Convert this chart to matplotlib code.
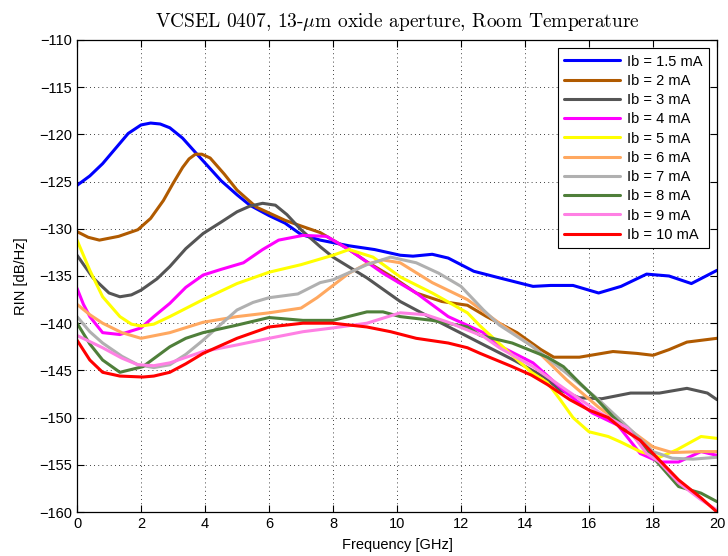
import matplotlib
matplotlib.use('Agg')
import matplotlib.pyplot as plt

# RIN spectra, one curve per bias current (x in GHz, y in dB/Hz)
x_15 = [0, 0.4, 0.8, 1.2, 1.6, 2.0, 2.3, 2.6, 2.9, 3.3, 3.75, 4.1, 4.5, 5.0, 5.4, 6.0, 6.5, 7.0, 7.6, 8.5, 9.3, 10.1, 10.5, 11.1, 11.6, 12.0, 12.4, 13.2, 14.25, 14.8, 15.5, 16.3, 17.0, 17.8, 18.5, 19.2, 20]
y_15 = [-125.4, -124.4, -123.1, -121.5, -119.9, -119.0, -118.8, -118.9, -119.3, -120.4, -122.1, -123.4, -124.9, -126.4, -127.5, -128.6, -129.4, -130.6, -131.2, -131.8, -132.2, -132.8, -132.9, -132.7, -133.1, -133.8, -134.5, -135.2, -136.1, -136.0, -136.0, -136.8, -136.1, -134.8, -135.0, -135.8, -134.4]

x_2 = [0, 0.35, 0.7, 1.3, 1.9, 2.3, 2.7, 3.0, 3.3, 3.5, 3.7, 3.9, 4.16, 4.6, 5.0, 5.6, 6.5, 7.0, 7.6, 8.0, 8.5, 9.06, 9.9, 10.6, 11.4, 12.2, 12.8, 13.75, 14.5, 14.9, 15.7, 16.75, 17.5, 18.0, 18.5, 19.06, 20]
y_2 = [-130.3, -130.9, -131.2, -130.8, -130.1, -128.9, -127.0, -125.2, -123.5, -122.6, -122.1, -122.1, -122.5, -124.2, -125.9, -127.7, -129.1, -129.7, -130.4, -131.2, -132.2, -133.5, -135.2, -136.8, -137.7, -138.1, -139.3, -141.0, -142.8, -143.6, -143.6, -143.0, -143.2, -143.4, -142.8, -142.0, -141.6]

x_3 = [0, 0.5, 1.0, 1.34, 1.7, 2.0, 2.5, 2.9, 3.4, 3.94, 4.5, 5.0, 5.4, 5.8, 6.2, 6.56, 7.0, 7.6, 8.0, 9.06, 10.1, 11.1, 12.2, 12.6, 13.7, 14.6, 15.1, 15.7, 16.4, 17.3, 18.2, 19.06, 19.7, 20]
y_3 = [-132.8, -135.2, -136.8, -137.2, -137.0, -136.5, -135.3, -134.0, -132.1, -130.5, -129.3, -128.2, -127.6, -127.3, -127.5, -128.5, -130.1, -131.9, -133.0, -135.2, -137.7, -139.5, -141.4, -142.1, -144.0, -145.7, -147.1, -147.9, -148.0, -147.4, -147.4, -146.9, -147.4, -148.1]

x_4 = [0, 0.2, 0.4, 0.8, 1.34, 2.0, 2.4, 2.9, 3.4, 3.94, 4.5, 5.2, 5.8, 6.3, 7.06, 7.8, 8.5, 9.56, 10.6, 11.6, 12.7, 13.2, 14.25, 15.3, 16.1, 16.9, 17.6, 18.2, 18.8, 19.5, 20]
y_4 = [-136.3, -138.0, -139.3, -141.0, -141.2, -140.5, -139.3, -137.9, -136.2, -134.9, -134.3, -133.6, -132.2, -131.2, -130.7, -130.8, -132.2, -134.7, -136.8, -139.3, -141.0, -142.4, -144.2, -147.4, -149.5, -150.8, -153.8, -154.7, -154.7, -153.6, -154.0]

x_5 = [0, 0.4, 0.8, 1.34, 1.7, 2.0, 2.4, 2.9, 3.94, 5.0, 6.0, 7.0, 8.0, 8.5, 9.25, 10.1, 11.1, 12.2, 12.6, 13.6, 14.2, 14.7, 15.1, 15.5, 16.0, 16.6, 17.0, 17.6, 18.2, 18.75, 19.5, 20]
y_5 = [-131.2, -134.4, -137.2, -139.3, -140.1, -140.3, -140.1, -139.3, -137.5, -135.8, -134.6, -133.8, -132.8, -132.2, -133.0, -135.1, -136.8, -138.9, -140.3, -143.4, -145.2, -146.3, -148.1, -150.0, -151.5, -152.0, -152.6, -153.6, -154.2, -153.4, -152.0, -152.2]

x_6 = [0, 0.4, 0.8, 1.4, 2.0, 2.9, 3.94, 5.0, 6.0, 7.0, 7.5, 8.0, 8.5, 9.0, 9.56, 10.1, 11.1, 12.2, 13.2, 14.25, 15.3, 16.3, 17.2, 18.0, 18.6, 19.5, 20]
y_6 = [-138.0, -139.1, -140.0, -141.0, -141.6, -141.0, -139.9, -139.3, -138.9, -138.4, -137.3, -136.0, -134.7, -133.8, -133.3, -133.6, -135.7, -137.5, -140.0, -142.5, -146.0, -148.9, -151.1, -153.1, -153.7, -153.6, -153.6]

x_7 = [0, 0.4, 0.8, 1.4, 1.9, 2.4, 2.9, 3.4, 3.94, 4.5, 5.0, 5.5, 6.0, 6.9, 7.6, 8.0, 9.06, 9.8, 10.6, 11.3, 12.0, 12.7, 13.2, 14.25, 15.3, 16.3, 17.4, 18.0, 18.6, 19.25, 20]
y_7 = [-139.3, -140.9, -142.1, -143.5, -144.4, -144.7, -144.4, -143.3, -141.8, -140.1, -138.6, -137.8, -137.3, -136.9, -135.7, -135.4, -133.8, -133.0, -133.6, -134.7, -136.1, -138.6, -140.2, -142.5, -145.3, -148.1, -151.6, -153.6, -154.3, -154.4, -154.2]

x_8 = [0, 0.4, 0.8, 1.34, 2.06, 2.5, 2.9, 3.4, 3.94, 5.0, 6.0, 7.06, 8.0, 9.06, 9.56, 10.1, 11.1, 12.2, 12.6, 13.6, 14.7, 15.2, 15.7, 16.25, 16.75, 17.3, 18.0, 18.8, 19.5, 20]
y_8 = [-140.0, -142.2, -143.9, -145.2, -144.6, -143.5, -142.5, -141.6, -141.0, -140.2, -139.4, -139.7, -139.7, -138.8, -138.8, -139.3, -139.7, -140.4, -141.3, -142.1, -143.6, -144.6, -146.3, -148.1, -149.9, -151.6, -154.2, -157.3, -158.0, -158.9]

x_9 = [0, 0.8, 1.4, 1.9, 2.4, 2.9, 3.94, 5.0, 6.0, 7.06, 8.0, 9.06, 10.1, 10.9, 11.6, 12.7, 13.2, 14.25, 15.3, 16.3, 17.2, 17.8, 18.2, 18.8, 19.5, 20]
y_9 = [-141.3, -142.6, -143.7, -144.4, -144.5, -144.2, -143.0, -142.3, -141.6, -140.9, -140.5, -140.0, -138.9, -139.1, -139.9, -141.4, -142.6, -144.6, -147.1, -149.4, -151.1, -153.8, -154.7, -156.9, -158.7, -159.8]

x_10 = [0, 0.4, 0.8, 1.34, 2.06, 2.4, 2.9, 3.4, 3.94, 5.0, 6.0, 7.06, 8.0, 9.06, 9.8, 10.6, 11.6, 12.2, 12.6, 13.6, 14.2, 14.7, 15.4, 16.0, 16.6, 17.0, 17.6, 18.2, 18.8, 19.5, 20]
y_10 = [-141.8, -143.9, -145.2, -145.6, -145.7, -145.6, -145.2, -144.3, -143.2, -141.6, -140.4, -140.0, -140.0, -140.4, -140.9, -141.6, -142.1, -142.6, -143.2, -144.6, -145.5, -146.5, -148.1, -149.2, -150.0, -151.1, -152.4, -154.5, -156.6, -158.5, -160.0]

labels = ['Ib = 1.5 mA', 'Ib = 2 mA', 'Ib = 3 mA', 'Ib = 4 mA', 'Ib = 5 mA',
          'Ib = 6 mA', 'Ib = 7 mA', 'Ib = 8 mA', 'Ib = 9 mA', 'Ib = 10 mA']
colors = ['#0000ff', '#b05a00', '#555555', '#ff00ff', '#ffff00',
          '#ffa860', '#b0b0b0', '#4f7f3a', '#ff80e4', '#ff0000']
curves = [(x_15, y_15), (x_2, y_2), (x_3, y_3), (x_4, y_4), (x_5, y_5),
          (x_6, y_6), (x_7, y_7), (x_8, y_8), (x_9, y_9), (x_10, y_10)]

plt.rcParams['font.family'] = ['Liberation Sans', 'DejaVu Sans']
plt.rcParams['mathtext.fontset'] = 'cm'

fig = plt.figure(figsize=(7.28, 5.56), dpi=100)
ax = fig.add_axes([0.1058, 0.0791, 0.8791, 0.8490])

for (xs, ys), c, lab in zip(curves, colors, labels):
    ax.plot(xs, ys, color=c, lw=2.2, label=lab, solid_capstyle='round', solid_joinstyle='round')

ax.set_xlim(0, 20)
ax.set_ylim(-160, -110)
ax.set_xticks(range(0, 21, 2))
ax.set_yticks(range(-160, -109, 5))
ax.tick_params(direction='in', top=True, right=True, labelsize=10.5, length=5, width=0.8)
ax.grid(True, color='black', linestyle=(0, (1, 4)), linewidth=0.6)
for s in ax.spines.values():
    s.set_linewidth(0.9)

ax.set_xlabel('Frequency [GHz]', fontsize=10.5, labelpad=5)
ax.set_ylabel('RIN [dB/Hz]', fontsize=10.5, labelpad=8)
ax.set_title(r'VCSEL 0407, 13-$\mu$m oxide aperture, Room Temperature',
             family='cmr10', fontsize=14, pad=9)

leg = ax.legend(loc='upper right', fontsize=10.5, fancybox=False, framealpha=1,
                edgecolor='black', handlelength=3.8, labelspacing=0.36,
                borderaxespad=0.55, handletextpad=0.5, borderpad=0.45)
leg.get_frame().set_linewidth(0.8)

fig.savefig('out.png', dpi=100)
